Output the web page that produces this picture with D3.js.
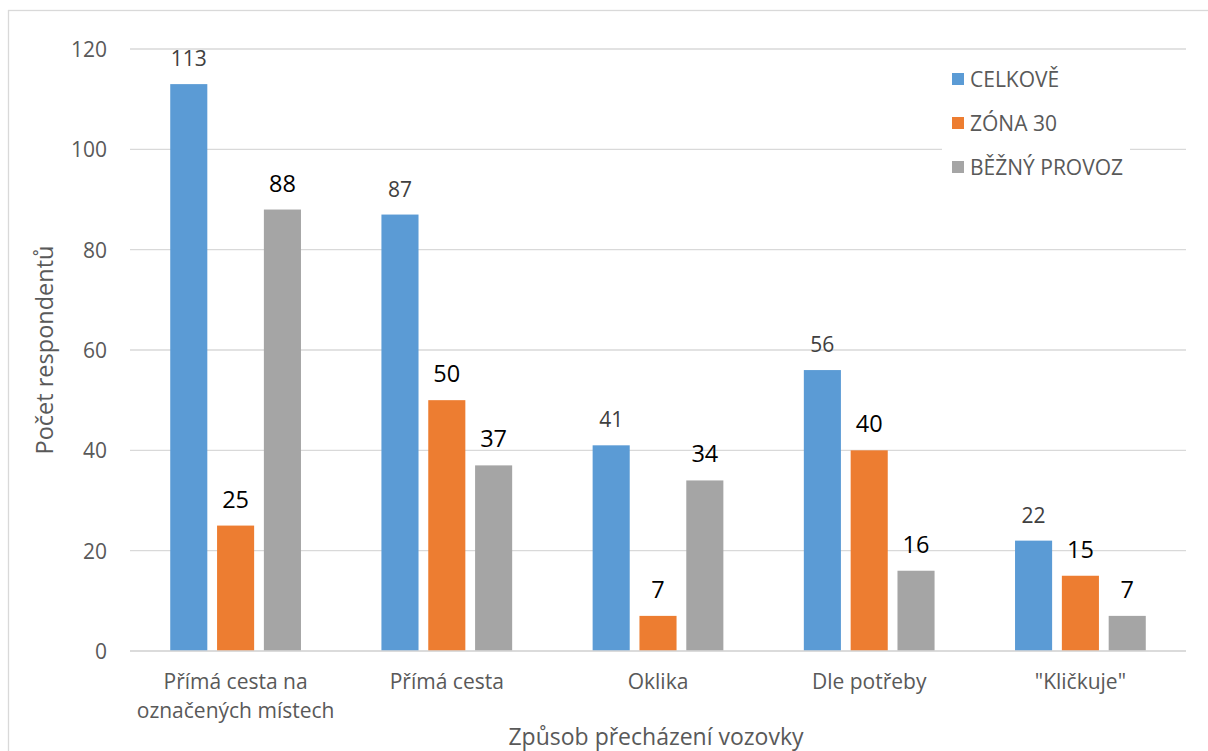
<!DOCTYPE html>
<html>
<head>
<meta charset="utf-8">
<script src="https://cdn.jsdelivr.net/npm/d3@7"></script>
<style>
  html, body { margin: 0; padding: 0; background: #fff; }
  svg { display: block; font-family: "Open Sans", "Noto Sans", sans-serif; }
</style>
</head>
<body>
<svg id="chart" width="1208" height="751"></svg>
<script>
// Categories (each may wrap onto two lines)
const categories = [
  ["Přímá cesta na", "označených místech"],
  ["Přímá cesta"],
  ["Oklika"],
  ["Dle potřeby"],
  ["\"Kličkuje\""]
];
const seriesNames = ["CELKOVĚ", "ZÓNA 30", "BĚŽNÝ PROVOZ"];
const celkove = [113, 87, 41, 56, 22];
const zona30 = [25, 50, 7, 40, 15];
const beznyProvoz = [88, 37, 34, 16, 7];
const yTicks = [0, 20, 40, 60, 80, 100, 120];
const seriesColors = ["#5B9BD5", "#ED7D31", "#A5A5A5"];

const seriesValues = [celkove, zona30, beznyProvoz];
const catKeys = categories.map((c, i) => i);

const svg = d3.select("#chart");
const plot = { left: 130, right: 1186, top: 49, bottom: 651 };

// outer chart frame
svg.append("rect")
  .attr("x", 8.5).attr("y", 10.5)
  .attr("width", 1208).attr("height", 760)
  .attr("fill", "#fff").attr("stroke", "#d9d9d9").attr("stroke-width", 1.3);

const x0 = d3.scaleBand().domain(catKeys)
  .range([plot.left, plot.right])
  .paddingInner(0.381).paddingOuter(0.1905);
const x1 = d3.scaleBand().domain(d3.range(seriesNames.length))
  .range([0, x0.bandwidth()])
  .paddingInner(0.208);
const y = d3.scaleLinear().domain([0, 120]).range([plot.bottom, plot.top]);

// gridlines
svg.append("g").selectAll("line").data(yTicks).join("line")
  .attr("x1", plot.left).attr("x2", plot.right)
  .attr("y1", d => y(d)).attr("y2", d => y(d))
  .attr("stroke", "#d9d9d9").attr("stroke-width", 1.3);

// y-axis tick labels
const yAxis = d3.axisLeft(y).tickValues(yTicks).tickSize(0).tickPadding(0);
const gy = svg.append("g").attr("transform", "translate(107,0)").call(yAxis);
gy.select(".domain").remove();
gy.selectAll("text")
  .attr("fill", "#595959").attr("font-size", 21)
  .attr("font-family", "\"Open Sans\", sans-serif")
  .attr("dy", "0.36em");

// bars
const groups = svg.append("g").selectAll("g").data(catKeys).join("g")
  .attr("transform", d => `translate(${x0(d)},0)`);

groups.selectAll("rect")
  .data(ci => seriesValues.map((vals, si) => ({ si, v: vals[ci] })))
  .join("rect")
  .attr("x", d => x1(d.si))
  .attr("width", x1.bandwidth())
  .attr("y", d => y(d.v))
  .attr("height", d => y(0) - y(d.v))
  .attr("fill", d => seriesColors[d.si]);

// value labels
groups.selectAll("text")
  .data(ci => seriesValues.map((vals, si) => ({ si, v: vals[ci] })))
  .join("text")
  .attr("x", d => x1(d.si) + x1.bandwidth() / 2)
  .attr("y", d => y(d.v) - 18)
  .attr("text-anchor", "middle")
  .attr("font-size", d => d.si === 0 ? 21 : 23.5)
  .attr("fill", d => d.si === 0 ? "#404040" : "#000")
  .text(d => d.v);

// baseline
svg.append("line")
  .attr("x1", plot.left).attr("x2", plot.right)
  .attr("y1", y(0)).attr("y2", y(0))
  .attr("stroke", "#d9d9d9").attr("stroke-width", 1.5);

// category labels
const xAxis = svg.append("g");
xAxis.selectAll("text").data(catKeys).join("text")
  .attr("x", d => x0(d) + x0.bandwidth() / 2)
  .attr("y", 689)
  .attr("text-anchor", "middle")
  .attr("font-size", 21)
  .attr("fill", "#595959")
  .each(function (d) {
    const t = d3.select(this);
    categories[d].forEach((line, i) => {
      t.append("tspan")
        .attr("x", x0(d) + x0.bandwidth() / 2)
        .attr("dy", i === 0 ? 0 : 29)
        .text(line);
    });
  });

// axis titles
svg.append("text")
  .attr("x", 656).attr("y", 745)
  .attr("text-anchor", "middle")
  .attr("font-size", 23).attr("fill", "#595959")
  .text("Způsob přecházení vozovky");

svg.append("text")
  .attr("transform", "translate(53,350) rotate(-90)")
  .attr("text-anchor", "middle")
  .attr("font-size", 23.5).attr("fill", "#595959")
  .text("Počet respondentů");

// legend
const legend = svg.append("g").attr("transform", "translate(942,56)");
legend.append("rect")
  .attr("x", 0).attr("y", 0).attr("width", 188).attr("height", 134)
  .attr("fill", "#fff");
const items = legend.selectAll("g").data(seriesNames).join("g")
  .attr("transform", (d, i) => `translate(10,${23 + i * 44})`);
items.append("rect")
  .attr("x", 0).attr("y", -6).attr("width", 12).attr("height", 12)
  .attr("fill", (d, i) => seriesColors[i]);
items.append("text")
  .attr("x", 18).attr("y", 0).attr("dy", "0.36em")
  .attr("font-size", 21).attr("fill", "#595959")
  .text(d => d);
</script>
</body>
</html>
